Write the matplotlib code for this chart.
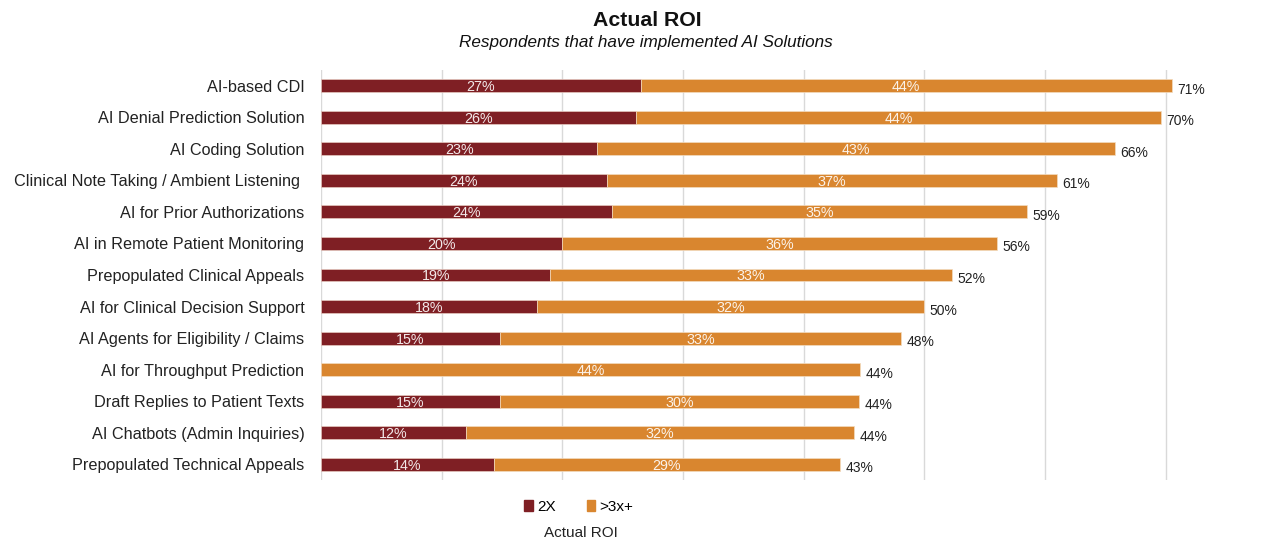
import numpy as np
import matplotlib
matplotlib.use("Agg")
import matplotlib.pyplot as plt
from matplotlib.patches import Patch

plt.rcParams['font.family'] = ['Liberation Sans', 'DejaVu Sans']

# data (percent)
solutions = [
    "AI-based CDI",
    "AI Denial Prediction Solution",
    "AI Coding Solution",
    "Clinical Note Taking / Ambient Listening ",
    "AI for Prior Authorizations",
    "AI in Remote Patient Monitoring",
    "Prepopulated Clinical Appeals",
    "AI for Clinical Decision Support",
    "AI Agents for Eligibility / Claims",
    "AI for Throughput Prediction",
    "Draft Replies to Patient Texts",
    "AI Chatbots (Admin Inquiries)",
    "Prepopulated Technical Appeals",
]
roi_2x = [26.5, 26.1, 22.9, 23.7, 24.1, 20.0, 19.0, 17.9, 14.8, 0.0, 14.8, 12.0, 14.3]
roi_total = [70.5, 69.6, 65.8, 61.0, 58.5, 56.0, 52.3, 50.0, 48.1, 44.7, 44.6, 44.2, 43.0]

# printed labels
lbl_2x = [27, 26, 23, 24, 24, 20, 19, 18, 15, None, 15, 12, 14]
lbl_3x = [44, 44, 43, 37, 35, 36, 33, 32, 33, 44, 30, 32, 29]
lbl_total = [71, 70, 66, 61, 59, 56, 52, 50, 48, 44, 44, 44, 43]

dark_red = "#7f1f24"
orange = "#d9862f"

roi_3x = [t - a for t, a in zip(roi_total, roi_2x)]
y = np.arange(len(solutions))

fig = plt.figure(figsize=(12.68, 5.41), dpi=100)
ax = fig.add_axes([321 / 1268, 1 - 480 / 541, 905 / 1268, 410 / 541])

ax.barh(y, roi_2x, height=0.41, color=dark_red, edgecolor="#e6c9c0", linewidth=0.5, zorder=3)
ax.barh(y, roi_3x, left=roi_2x, height=0.41, color=orange, edgecolor="#f3dcc0", linewidth=0.5, zorder=3)

for i in range(len(solutions)):
    if lbl_2x[i] is not None:
        ax.text(roi_2x[i] / 2, y[i], f"{lbl_2x[i]}%", ha="center", va="center_baseline",
                color="white", alpha=0.9, fontsize=10.3, zorder=4)
    ax.text(roi_2x[i] + roi_3x[i] / 2, y[i], f"{lbl_3x[i]}%", ha="center", va="center_baseline",
            color="white", alpha=0.9, fontsize=10.3, zorder=4)
    ax.annotate(f"{lbl_total[i]}%", (roi_total[i], y[i] + 0.08), xytext=(4, 0),
                textcoords="offset points", ha="left", va="center_baseline",
                color="#222222", fontsize=10)

ax.set_xlim(0, 75)
ax.set_ylim(len(solutions) - 0.5, -0.5)
ax.set_xticks(np.arange(0, 71, 10))
ax.set_xticklabels([])
ax.tick_params(axis="x", length=0)
ax.tick_params(axis="y", length=0, pad=12, labelsize=11.7, labelcolor="#222222")
ax.set_yticks(y)
ax.set_yticklabels(solutions)
ax.grid(axis="x", color="#d9d9d9", linewidth=1, zorder=0)
for s in ax.spines.values():
    s.set_visible(False)

fig.text(647 / 1268, 1 - 20 / 541, "Actual ROI", ha="center", va="center",
         fontsize=15.3, fontweight="bold", color="#111111")
fig.text(646 / 1268, 1 - 43 / 541, "Respondents that have implemented AI Solutions",
         ha="center", va="center", fontsize=12.3, style="italic", color="#111111")

handles = [Patch(color=dark_red, label="2X"), Patch(color=orange, label=">3x+")]
fig.legend(handles=handles, loc="center", bbox_to_anchor=(579 / 1268, 1 - 507 / 541),
           ncol=2, frameon=False, fontsize=11, handlelength=0.55, handleheight=0.7,
           handletextpad=0.3, columnspacing=2.0)
fig.text(581 / 1268, 1 - 533 / 541, "Actual ROI", ha="center", va="center",
         fontsize=11, color="#222222")

fig.savefig("out.png", dpi=100)
